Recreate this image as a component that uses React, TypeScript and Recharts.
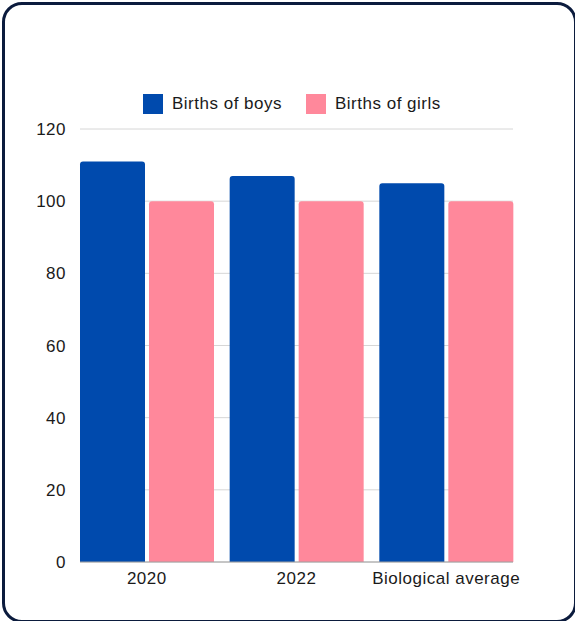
import React from "react";
import { BarChart, Bar, XAxis, YAxis, CartesianGrid, Legend } from "recharts";

const categories = ["2020", "2022", "Biological average"];
const boys = [111, 107, 105];
const girls = [100, 100, 100];
const yTicks = [0, 20, 40, 60, 80, 100, 120];

const BOYS_COLOR = "#004AAD";
const GIRLS_COLOR = "#FF889B";
const FONT = "'Liberation Sans', Arial, Helvetica, sans-serif";

const data = categories.map((c, i) => ({ name: c, boys: boys[i], girls: girls[i] }));

const LegendContent = () => (
  <div
    style={{
      display: "flex",
      alignItems: "center",
      marginLeft: 143,
      fontFamily: FONT,
      fontSize: 17,
      letterSpacing: 0.5,
      color: "#1a1a1a",
      height: 20,
    }}
  >
    <span style={{ width: 20, height: 20, background: BOYS_COLOR, display: "inline-block" }} />
    <span style={{ marginLeft: 9 }}>Births of boys</span>
    <span style={{ width: 20, height: 20, background: GIRLS_COLOR, display: "inline-block", marginLeft: 24 }} />
    <span style={{ marginLeft: 9 }}>Births of girls</span>
  </div>
);

export default function App() {
  return (
    <div
      style={{
        position: "fixed",
        left: 0,
        top: 0,
        width: 575,
        height: 621,
        overflow: "hidden",
        background: "#fff",
      }}
    >
      <div
        style={{
          position: "absolute",
          left: 2,
          top: 2,
          right: -2,
          bottom: -2,
          border: "3px solid #0b1b3d",
          borderRadius: 20,
          boxSizing: "border-box",
        }}
      />
      <div style={{ position: "absolute", left: 0, top: 0 }}>
        <BarChart
          width={575}
          height={621}
          data={data}
          margin={{ top: 129, right: 62, bottom: 29, left: 0 }}
          barCategoryGap={8}
          barGap={4}
        >
          <CartesianGrid vertical={false} stroke="#d6d6d6" />
          <XAxis
            dataKey="name"
            height={30}
            padding={{ left: -8, right: -8 }}
            tickLine={false}
            tickSize={0}
            tickMargin={10}
            axisLine={{ stroke: "#a0a0a0" }}
            tick={{ fill: "#1a1a1a", fontSize: 17, fontFamily: FONT, letterSpacing: 0.5 }}
            interval={0}
          />
          <YAxis
            width={80}
            domain={[0, 120]}
            ticks={yTicks}
            tickLine={false}
            axisLine={false}
            tickSize={0}
            tickMargin={14}
            tick={{ fill: "#1a1a1a", fontSize: 17, fontFamily: FONT, letterSpacing: 0.5 }}
          />
          <Legend
            layout="horizontal"
            verticalAlign="middle"
            align="center"
            wrapperStyle={{ top: 94, left: 0, width: 575 }}
            content={<LegendContent />}
          />
          <Bar dataKey="boys" fill={BOYS_COLOR} radius={[3, 3, 0, 0]} isAnimationActive={false} />
          <Bar dataKey="girls" fill={GIRLS_COLOR} radius={[3, 3, 0, 0]} isAnimationActive={false} />
        </BarChart>
      </div>
    </div>
  );
}
